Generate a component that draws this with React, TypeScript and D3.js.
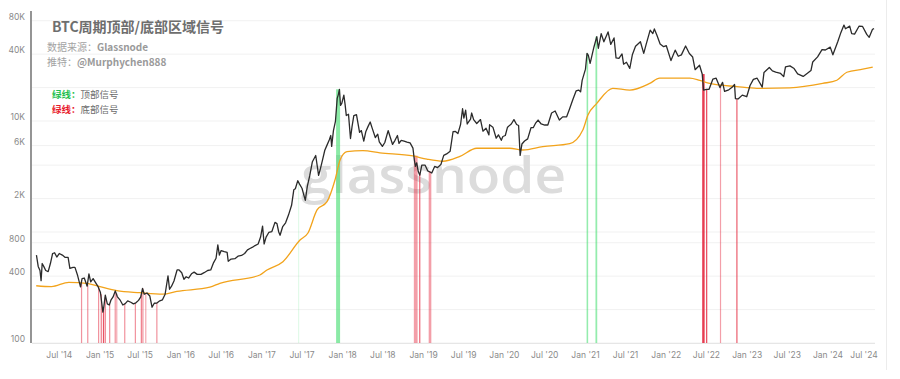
import React from "react";
import * as d3 from "d3";

const WIDTH = 900;
const HEIGHT = 379;

// BTC price (USD)
const priceData: [string, number][] = [
  ["2014-03-20", 620], ["2014-03-28", 490], ["2014-04-05", 450], ["2014-04-10", 365], ["2014-04-15", 520],
  ["2014-04-22", 490], ["2014-05-01", 450], ["2014-05-12", 440], ["2014-05-22", 520], ["2014-06-01", 640],
  ["2014-06-10", 650], ["2014-06-20", 595], ["2014-07-01", 640], ["2014-07-15", 620], ["2014-07-28", 590],
  ["2014-08-10", 590], ["2014-08-18", 470], ["2014-09-01", 480], ["2014-09-10", 480], ["2014-09-22", 405],
  ["2014-10-05", 320], ["2014-10-12", 380], ["2014-10-22", 385], ["2014-11-04", 325], ["2014-11-12", 420],
  ["2014-11-20", 355], ["2014-12-01", 380], ["2014-12-12", 350], ["2014-12-24", 320], ["2015-01-03", 285],
  ["2015-01-14", 190], ["2015-01-18", 210], ["2015-01-25", 270], ["2015-02-03", 225], ["2015-02-12", 220],
  ["2015-02-20", 245], ["2015-03-01", 260], ["2015-03-11", 295], ["2015-03-20", 262], ["2015-04-01", 245],
  ["2015-04-14", 220], ["2015-04-25", 226], ["2015-05-06", 240], ["2015-05-20", 233], ["2015-06-01", 225],
  ["2015-06-12", 230], ["2015-06-24", 242], ["2015-07-04", 260], ["2015-07-12", 310], ["2015-07-20", 275],
  ["2015-08-01", 282], ["2015-08-14", 265], ["2015-08-24", 210], ["2015-09-03", 228], ["2015-09-15", 229],
  ["2015-09-28", 240], ["2015-10-10", 245], ["2015-10-22", 275], ["2015-11-04", 403], ["2015-11-11", 305],
  ["2015-11-20", 325], ["2015-12-01", 362], ["2015-12-15", 455], ["2015-12-24", 455], ["2016-01-05", 430],
  ["2016-01-15", 375], ["2016-01-25", 395], ["2016-02-05", 385], ["2016-02-18", 420], ["2016-03-01", 435],
  ["2016-03-15", 415], ["2016-04-01", 415], ["2016-04-15", 430], ["2016-05-01", 450], ["2016-05-15", 455],
  ["2016-05-28", 530], ["2016-06-08", 580], ["2016-06-16", 765], ["2016-06-23", 620], ["2016-07-01", 680],
  ["2016-07-15", 665], ["2016-07-28", 655], ["2016-08-02", 545], ["2016-08-15", 570], ["2016-09-01", 575],
  ["2016-09-15", 605], ["2016-10-01", 615], ["2016-10-15", 640], ["2016-10-28", 690], ["2016-11-08", 710],
  ["2016-11-20", 730], ["2016-12-01", 755], ["2016-12-15", 780], ["2016-12-26", 900], ["2017-01-04", 1130],
  ["2017-01-11", 780], ["2017-01-20", 900], ["2017-02-01", 990], ["2017-02-15", 1010], ["2017-03-01", 1220],
  ["2017-03-10", 1190], ["2017-03-18", 1000], ["2017-03-24", 935], ["2017-04-05", 1120], ["2017-04-18", 1210],
  ["2017-05-01", 1420], ["2017-05-15", 1740], ["2017-05-25", 2400], ["2017-06-01", 2450], ["2017-06-12", 2900],
  ["2017-06-20", 2700], ["2017-07-01", 2480], ["2017-07-16", 1930], ["2017-07-25", 2580], ["2017-08-05", 3220],
  ["2017-08-17", 4300], ["2017-09-01", 4890], ["2017-09-14", 3240], ["2017-09-22", 3700], ["2017-10-01", 4400],
  ["2017-10-12", 5450], ["2017-10-21", 6000], ["2017-11-01", 6750], ["2017-11-08", 7400], ["2017-11-12", 5900],
  ["2017-11-20", 8200], ["2017-11-29", 9900], ["2017-12-07", 16000], ["2017-12-12", 17300], ["2017-12-17", 19300],
  ["2017-12-22", 13800], ["2017-12-28", 14500], ["2018-01-06", 17100], ["2018-01-12", 13900], ["2018-01-17", 11200],
  ["2018-01-27", 11500], ["2018-02-05", 6950], ["2018-02-12", 8900], ["2018-02-20", 11200], ["2018-03-04", 11400],
  ["2018-03-18", 7900], ["2018-03-26", 8200], ["2018-04-06", 6600], ["2018-04-15", 8000], ["2018-04-25", 8900],
  ["2018-05-05", 9800], ["2018-05-15", 8500], ["2018-05-28", 7100], ["2018-06-08", 7600], ["2018-06-15", 6500],
  ["2018-06-29", 5900], ["2018-07-10", 6400], ["2018-07-25", 8200], ["2018-08-05", 7000], ["2018-08-14", 6150],
  ["2018-08-25", 6700], ["2018-09-05", 7400], ["2018-09-12", 6300], ["2018-09-22", 6700], ["2018-10-05", 6600],
  ["2018-10-18", 6450], ["2018-11-01", 6350], ["2018-11-14", 5700], ["2018-11-20", 4500], ["2018-11-25", 3900],
  ["2018-12-01", 4200], ["2018-12-08", 3500], ["2018-12-15", 3250], ["2018-12-24", 4000], ["2019-01-08", 4000],
  ["2019-01-20", 3550], ["2019-02-07", 3400], ["2019-02-20", 3900], ["2019-03-05", 3800], ["2019-03-20", 4050],
  ["2019-04-02", 4900], ["2019-04-15", 5050], ["2019-05-01", 5350], ["2019-05-14", 8000], ["2019-05-25", 8050],
  ["2019-06-05", 7700], ["2019-06-17", 9300], ["2019-06-26", 12900], ["2019-07-02", 10600], ["2019-07-10", 12500],
  ["2019-07-17", 9400], ["2019-08-01", 10400], ["2019-08-06", 11800], ["2019-08-15", 10300], ["2019-08-29", 9500],
  ["2019-09-15", 10300], ["2019-09-26", 8100], ["2019-10-10", 8600], ["2019-10-23", 7500], ["2019-10-26", 9250],
  ["2019-11-10", 8800], ["2019-11-25", 7000], ["2019-12-05", 7500], ["2019-12-18", 6700], ["2019-12-25", 7250],
  ["2020-01-05", 7400], ["2020-01-15", 8800], ["2020-02-01", 9400], ["2020-02-13", 10300], ["2020-02-25", 9300],
  ["2020-03-05", 9100], ["2020-03-12", 4900], ["2020-03-20", 6200], ["2020-04-01", 6600], ["2020-04-15", 6900],
  ["2020-04-30", 8700], ["2020-05-10", 8700], ["2020-05-20", 9500], ["2020-06-01", 10200], ["2020-06-15", 9400],
  ["2020-07-01", 9200], ["2020-07-15", 9200], ["2020-08-01", 11800], ["2020-08-17", 12300], ["2020-09-05", 10200],
  ["2020-09-20", 10900], ["2020-10-08", 10900], ["2020-10-21", 12800], ["2020-11-05", 15600], ["2020-11-20", 18700],
  ["2020-12-01", 19000], ["2020-12-10", 18300], ["2020-12-17", 23200], ["2021-01-01", 29300], ["2021-01-08", 40700],
  ["2021-01-14", 39100], ["2021-01-22", 33000], ["2021-02-08", 46200], ["2021-02-21", 57500], ["2021-02-28", 45200],
  ["2021-03-13", 61200], ["2021-03-25", 51700], ["2021-04-13", 63500], ["2021-04-25", 49000], ["2021-05-10", 56000],
  ["2021-05-19", 37000], ["2021-06-01", 36700], ["2021-06-15", 40200], ["2021-06-22", 32500], ["2021-07-05", 33800],
  ["2021-07-20", 29800], ["2021-08-01", 39800], ["2021-08-15", 47100], ["2021-09-06", 51800], ["2021-09-21", 40700],
  ["2021-10-01", 48200], ["2021-10-20", 65900], ["2021-11-01", 61300], ["2021-11-08", 67500], ["2021-11-20", 59000],
  ["2021-12-04", 49400], ["2021-12-20", 46700], ["2022-01-01", 47700], ["2022-01-22", 35000], ["2022-02-10", 43500],
  ["2022-02-24", 38300], ["2022-03-10", 39400], ["2022-03-29", 47400], ["2022-04-15", 40500], ["2022-04-30", 37700],
  ["2022-05-11", 29000], ["2022-05-31", 31800], ["2022-06-12", 26500], ["2022-06-18", 19000], ["2022-07-01", 19300],
  ["2022-07-13", 19300], ["2022-07-30", 23800], ["2022-08-14", 24300], ["2022-08-31", 20000], ["2022-09-12", 22300],
  ["2022-09-21", 18500], ["2022-10-10", 19100], ["2022-10-25", 20100], ["2022-11-05", 21300], ["2022-11-09", 15900],
  ["2022-11-21", 15800], ["2022-12-10", 17100], ["2022-12-30", 16550], ["2023-01-14", 20900], ["2023-01-29", 23700],
  ["2023-02-15", 24300], ["2023-03-10", 20200], ["2023-03-18", 27400], ["2023-04-11", 30300], ["2023-04-25", 28300],
  ["2023-05-10", 27600], ["2023-06-01", 26800], ["2023-06-15", 25100], ["2023-06-23", 30700], ["2023-07-13", 31400],
  ["2023-08-01", 29700], ["2023-08-17", 26600], ["2023-09-11", 25200], ["2023-09-30", 26900], ["2023-10-16", 28500],
  ["2023-10-24", 34000], ["2023-11-15", 37800], ["2023-12-05", 44000], ["2023-12-20", 43600], ["2024-01-11", 46300],
  ["2024-01-23", 39500], ["2024-02-14", 51800], ["2024-02-28", 62500], ["2024-03-13", 73100], ["2024-03-20", 67800],
  ["2024-04-08", 71600], ["2024-04-17", 61300], ["2024-04-30", 60600], ["2024-05-20", 71400], ["2024-06-05", 71100],
  ["2024-06-24", 60300], ["2024-07-05", 56700], ["2024-07-20", 67100], ["2024-07-27", 68000],
];

// Orange line (realized price)
const realizedData: [string, number][] = [
  ["2014-03-19", 328], ["2014-05-27", 322], ["2014-08-13", 352], ["2014-11-03", 345], ["2015-01-01", 322],
  ["2015-03-18", 296], ["2015-06-30", 284], ["2015-10-12", 276], ["2015-12-14", 292], ["2016-05-11", 318],
  ["2016-06-25", 345], ["2016-12-23", 410], ["2017-01-24", 455], ["2017-04-06", 540], ["2017-06-22", 847],
  ["2017-07-28", 980], ["2017-09-07", 1580], ["2017-10-22", 1875], ["2017-11-27", 2940], ["2017-12-20", 4460],
  ["2018-01-20", 5290], ["2018-04-02", 5400], ["2018-06-18", 5170], ["2018-11-14", 4840], ["2019-01-16", 4530],
  ["2019-03-29", 4340], ["2019-06-14", 4800], ["2019-08-29", 5680], ["2020-01-25", 5680], ["2020-03-24", 5480],
  ["2020-06-22", 5870], ["2020-10-22", 6260], ["2020-12-20", 8300], ["2021-01-12", 11300], ["2021-02-21", 14400],
  ["2021-05-04", 19700], ["2021-07-20", 19000], ["2021-10-18", 21800], ["2021-12-02", 24300], ["2022-04-17", 24300],
  ["2022-06-01", 23200], ["2022-07-16", 21800], ["2022-11-16", 20400], ["2023-02-14", 19700], ["2023-07-12", 19900],
  ["2023-12-08", 21800], ["2024-02-10", 23300], ["2024-03-26", 27500], ["2024-06-06", 29300], ["2024-07-21", 30600],
];

// Top-zone signals (green): [start, end, strength]
const topSignals: [string, string, number][] = [
  ["2017-06-13", "2017-06-15", 0.15],
  ["2017-12-02", "2017-12-20", 0.6],
  ["2021-01-06", "2021-01-13", 0.55],
  ["2021-02-15", "2021-02-23", 0.55],
];

// Bottom-zone signals (red): [start, end, strength]
const bottomSignals: [string, string, number][] = [
  ["2014-10-07", "2014-10-08", 0.5], ["2014-11-04", "2014-11-05", 0.5], ["2014-12-23", "2014-12-24", 0.5],
  ["2015-01-04", "2015-01-06", 0.6], ["2015-01-14", "2015-01-17", 0.8], ["2015-01-22", "2015-01-24", 0.6],
  ["2015-02-11", "2015-02-13", 0.55], ["2015-03-08", "2015-03-10", 0.5], ["2015-03-15", "2015-03-17", 0.4],
  ["2015-04-20", "2015-04-22", 0.5], ["2015-06-07", "2015-06-09", 0.5], ["2015-07-04", "2015-07-06", 0.6],
  ["2015-07-11", "2015-07-13", 0.5], ["2015-07-24", "2015-07-26", 0.4], ["2015-09-12", "2015-09-14", 0.5],
  ["2018-11-18", "2018-12-05", 0.45], ["2018-12-12", "2018-12-14", 0.7], ["2019-01-24", "2019-02-05", 0.45],
  ["2022-06-12", "2022-06-23", 0.9], ["2022-06-29", "2022-07-05", 0.8], ["2022-08-31", "2022-09-03", 0.45],
  ["2022-11-13", "2022-11-16", 0.75],
];

const yTickValues = [100, 400, 800, 2000, 6000, 10000, 40000, 80000];
const yTickLabels = ["100", "400", "800", "2K", "6K", "10K", "40K", "80K"];
const gridValues = [100, 200, 400, 800, 1000, 2000, 4000, 6000, 10000, 20000, 40000, 80000];

const TITLE = "BTC周期顶部/底部区域信号";
const SOURCE_LABEL = "数据来源：";
const SOURCE_NAME = "Glassnode";
const TWITTER_LABEL = "推特：";
const TWITTER_NAME = "@Murphychen888";
const LEGEND_TOP_KEY = "绿线：";
const LEGEND_TOP_TEXT = "顶部信号";
const LEGEND_BOTTOM_KEY = "绿线：";
const LEGEND_BOTTOM_TEXT = "底部信号";

const parse = d3.utcParse("%Y-%m-%d");

type Pt = { date: Date; v: number };

export default function App() {
  const x = d3
    .scaleUtc()
    .domain([parse("2015-01-01")!, parse("2024-01-01")!])
    .range([100, 828]);
  const y = d3.scaleLog().domain([100, 100000]).range([343, 10]);

  const price: Pt[] = priceData.map(([d, v]) => ({ date: parse(d)!, v }));
  const realized: Pt[] = realizedData.map(([d, v]) => ({ date: parse(d)!, v }));

  const priceLine = d3
    .line<Pt>()
    .x((d) => x(d.date))
    .y((d) => y(d.v));
  const realizedLine = d3
    .line<Pt>()
    .x((d) => x(d.date))
    .y((d) => y(d.v))
    .curve(d3.curveMonotoneX);

  const bis = d3.bisector<Pt, Date>((d) => d.date).left;
  const priceAt = (date: Date) => {
    const i = bis(price, date);
    if (i <= 0) return price[0].v;
    if (i >= price.length) return price[price.length - 1].v;
    const a = price[i - 1];
    const b = price[i];
    const t = (+date - +a.date) / (+b.date - +a.date);
    return Math.exp(Math.log(a.v) + t * (Math.log(b.v) - Math.log(a.v)));
  };

  const signalRects = (list: [string, string, number][], color: string, key: string) =>
    list.map(([s, e, k], i) => {
      const ds = parse(s)!;
      const de = parse(e)!;
      const x0 = x(ds);
      const x1 = Math.max(x(de), x0 + 1.2);
      let maxP = 0;
      for (let t = +ds; t <= +de; t += 86400000) maxP = Math.max(maxP, priceAt(new Date(t)));
      const top = y(maxP);
      return (
        <rect
          key={key + i}
          x={x0}
          y={top}
          width={x1 - x0}
          height={343 - top}
          fill={color}
          opacity={k}
        />
      );
    });

  const xTicks = d3.utcMonth
    .every(6)!
    .range(parse("2014-07-01")!, parse("2024-07-02")!);
  const fmt = d3.utcFormat("%b '%y");

  const sans = "'Noto Sans CJK SC', 'Noto Sans', sans-serif";

  return (
    <svg
      width={WIDTH}
      height={HEIGHT}
      style={{ position: "absolute", left: 0, top: 0, background: "#fff" }}
      fontFamily={sans}
    >
      <rect x={0} y={0} width={WIDTH} height={HEIGHT} fill="#fff" />
      {/* grid */}
      {gridValues.map((v) => (
        <line key={"g" + v} x1={32} x2={875} y1={y(v)} y2={y(v)} stroke="#f1f1f1" strokeWidth={1} />
      ))}
      <line x1={32} x2={875} y1={343.5} y2={343.5} stroke="#e6e6e6" strokeWidth={1} />
      <line x1={886.5} x2={886.5} y1={0} y2={370} stroke="#ececec" strokeWidth={1} />

      {/* watermark */}
      <text
        x={301}
        y={193}
        fontFamily="'Open Sans', 'Noto Sans', sans-serif"
        fontWeight={600}
        fontSize={50}
        fill="#dcdcdc"
        textLength={265}
        lengthAdjust="spacingAndGlyphs"
      >
        glassnode
      </text>

      {/* signals */}
      {signalRects(bottomSignals, "#e4283e", "b")}
      {signalRects(topSignals, "#3ddc6a", "t")}

      {/* realized price */}
      <path d={realizedLine(realized) || ""} fill="none" stroke="#f2a31b" strokeWidth={1.3} />
      {/* price */}
      <path d={priceLine(price) || ""} fill="none" stroke="#2b2b2b" strokeWidth={1.3} strokeLinejoin="round" />

      {/* y axis */}
      <line x1={31} x2={31} y1={11} y2={343} stroke="#7a7a7a" strokeWidth={1.6} />
      {yTickValues.map((v, i) => (
        <text
          key={"yt" + v}
          x={25}
          y={y(v) - 3}
          textAnchor="end"
          dominantBaseline="middle"
          fontSize={8.5}
          fill="#8a8a8a"
          fontFamily="'Inter', 'Noto Sans', sans-serif"
        >
          {yTickLabels[i]}
        </text>
      ))}

      {/* x axis labels */}
      {xTicks.map((d) => (
        <text
          key={"xt" + +d}
          x={Math.min(x(d), 864)}
          y={356}
          textAnchor="middle"
          dominantBaseline="middle"
          fontSize={8.5}
          fill="#8a8a8a"
          fontFamily="'Inter', 'Noto Sans', sans-serif"
        >
          {fmt(d)}
        </text>
      ))}

      {/* title block */}
      <text x={52} y={32} fontSize={14} fontWeight={700} fill="#6e6e6e">
        {TITLE}
      </text>
      <text x={47} y={51} fontSize={10} fill="#a3a3a3">
        {SOURCE_LABEL}
        <tspan fontWeight={700} fill="#9a9a9a">{SOURCE_NAME}</tspan>
      </text>
      <text x={47} y={66} fontSize={10} fill="#a3a3a3">
        {TWITTER_LABEL}
        <tspan fontWeight={700} fill="#9a9a9a">{TWITTER_NAME}</tspan>
      </text>
      <text x={52} y={97.5} fontSize={9.5}>
        <tspan fill="#1fbf4f" fontWeight={700}>{LEGEND_TOP_KEY}</tspan>
        <tspan fill="#6a6a6a">{LEGEND_TOP_TEXT}</tspan>
      </text>
      <text x={52} y={112.5} fontSize={9.5}>
        <tspan fill="#e8192c" fontWeight={700}>{LEGEND_BOTTOM_KEY}</tspan>
        <tspan fill="#6a6a6a">{LEGEND_BOTTOM_TEXT}</tspan>
      </text>
    </svg>
  );
}
